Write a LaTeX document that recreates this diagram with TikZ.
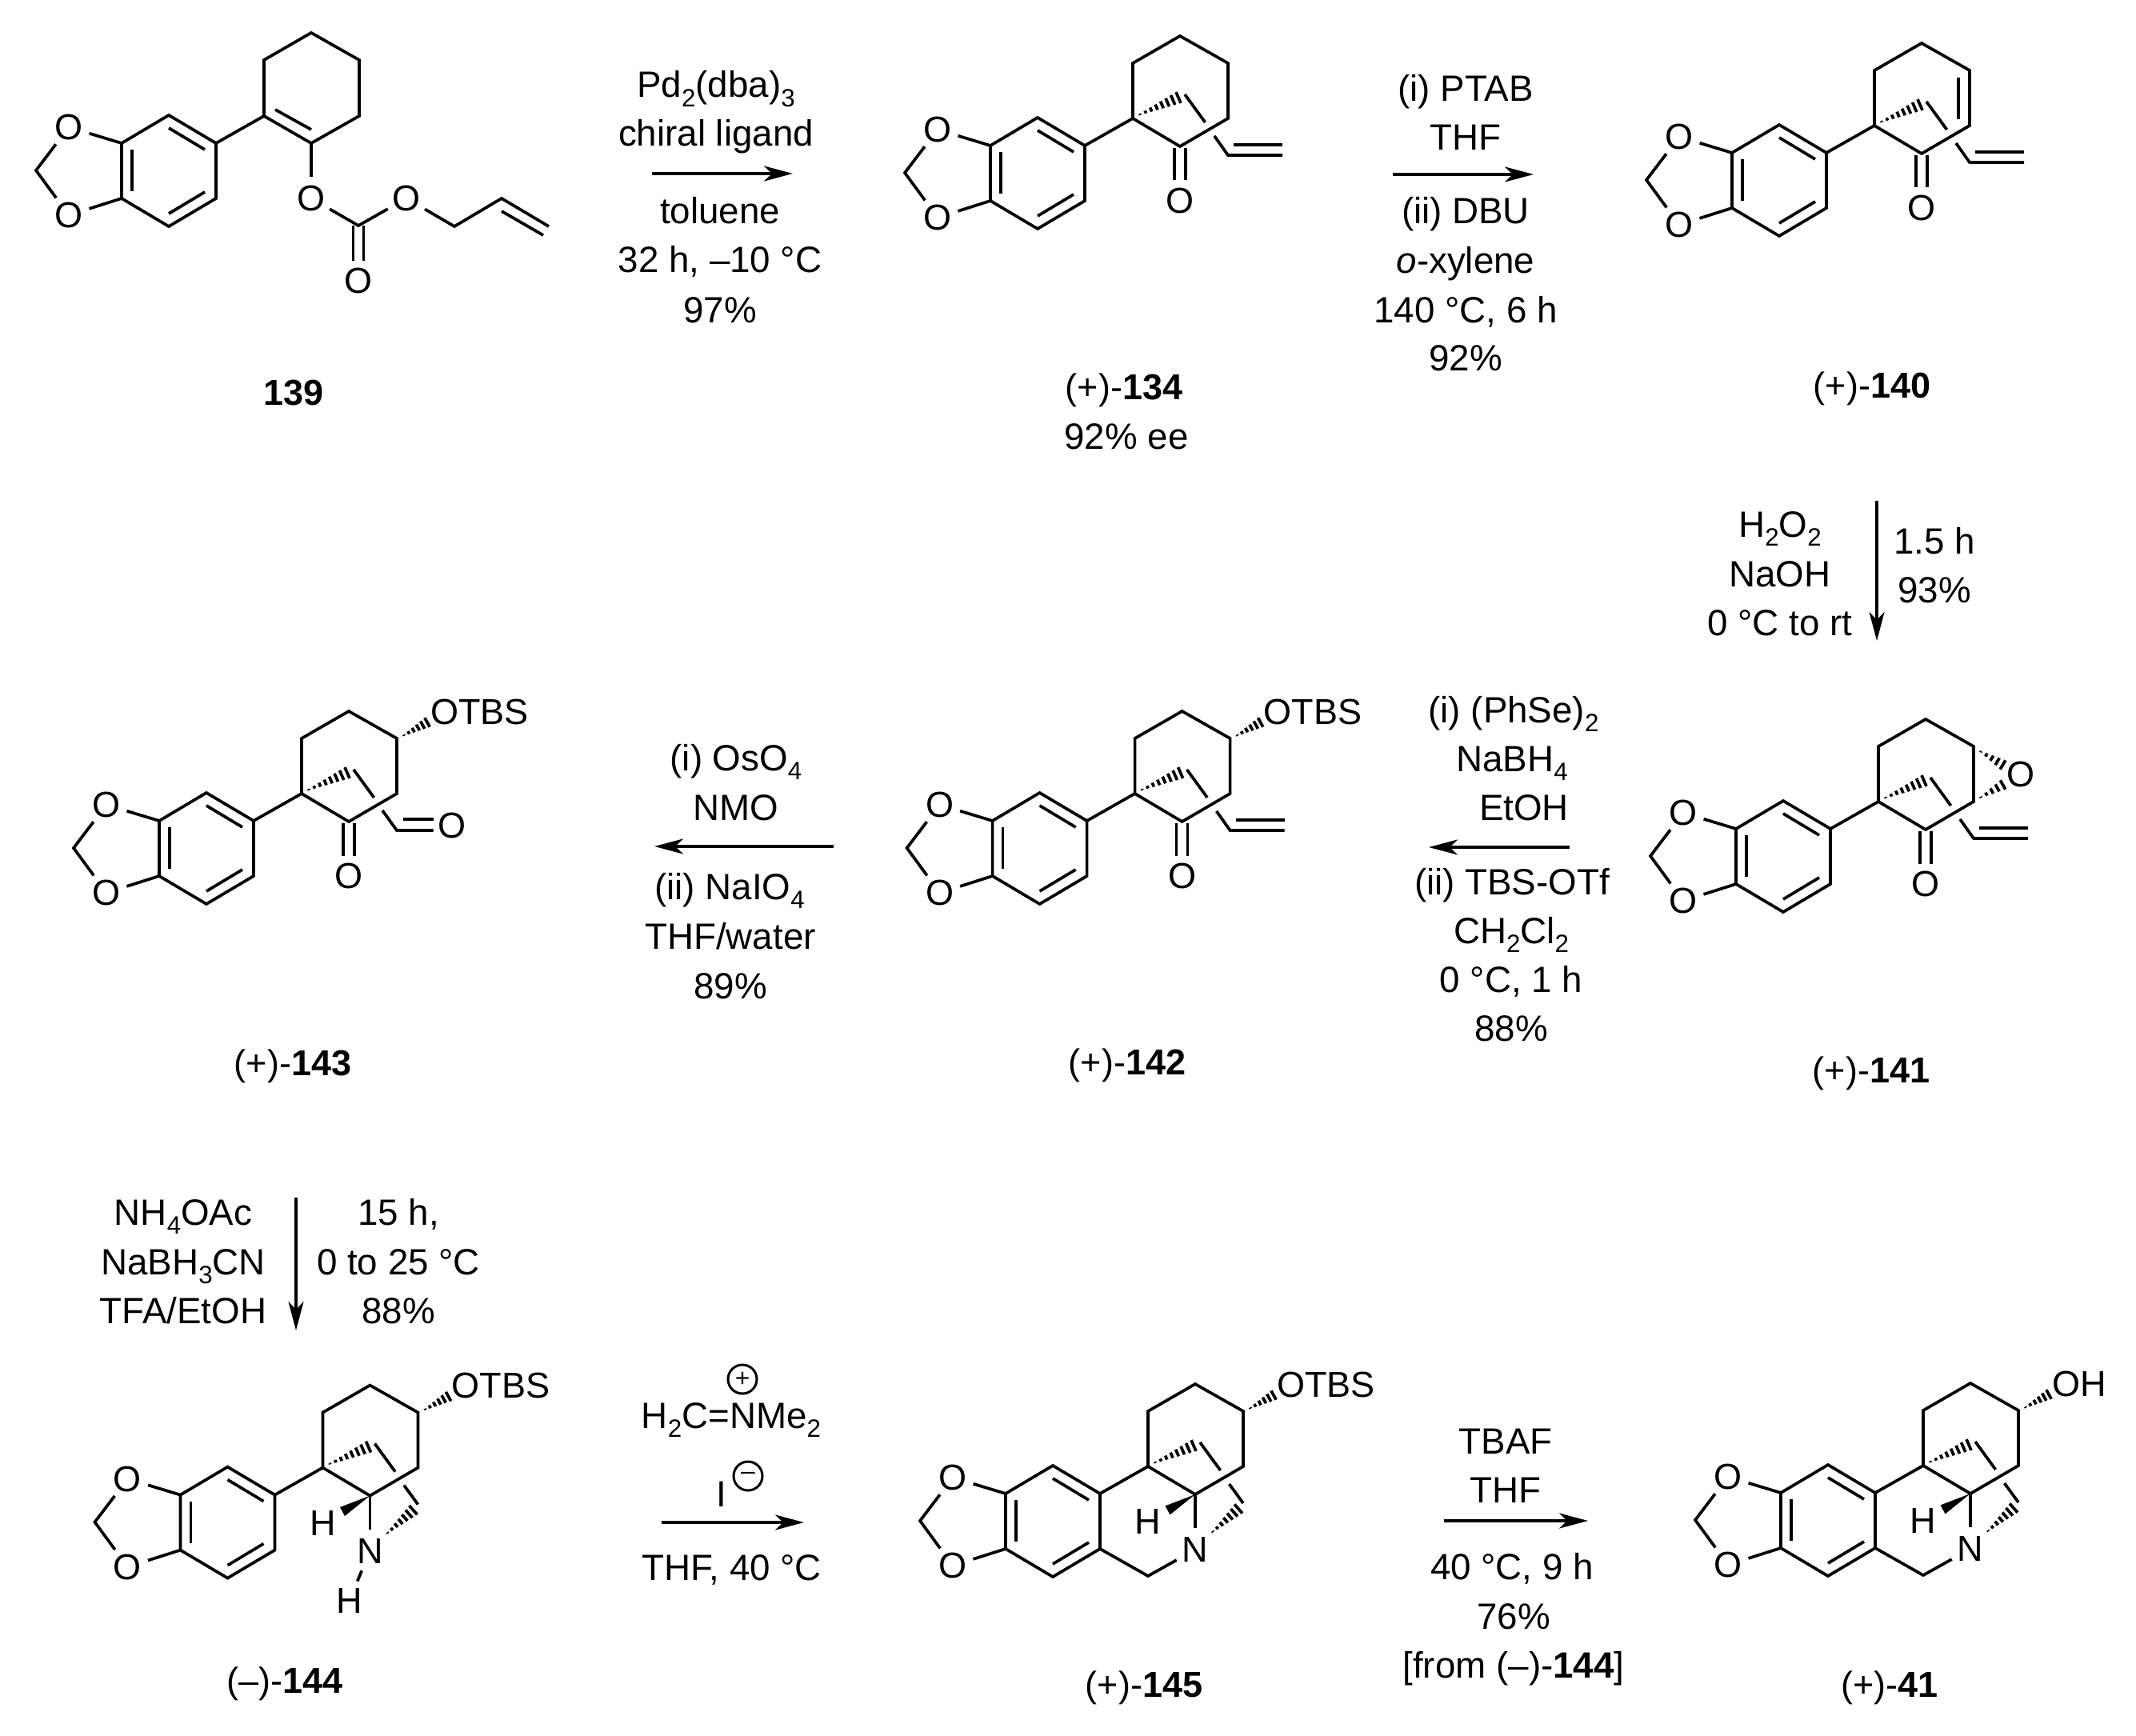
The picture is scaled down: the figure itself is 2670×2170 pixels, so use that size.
\documentclass[tikz,border=0pt]{standalone}
\usepackage{fontspec}
\setmainfont{Liberation Sans}
\usetikzlibrary{calc,arrows.meta}
\newcommand\subs[1]{\raisebox{-0.25em}{\fontsize{8.9}{9}\selectfont #1}}
\tikzset{
  bond/.style={line width=0.037cm,line join=miter,line cap=butt},
  hashline/.style={line width=0.037cm,line cap=butt},
  atom/.style={circle,inner sep=0pt,minimum size=0.52cm,font=\fontsize{12.8}{15}\selectfont},
  txt/.style={inner sep=0pt,anchor=base,font=\fontsize{13}{15}\selectfont},
  lab/.style={inner sep=0pt,anchor=base,font=\fontsize{12.8}{15}\selectfont},
  rxn/.style={line width=0.037cm,-{Stealth[length=0.36cm,width=0.19cm,inset=0.1cm]}},
  charge/.style={circle,draw,line width=0.03cm,inner sep=0pt,minimum size=0.36cm,font=\fontsize{9}{9}\selectfont}
}
% hashed wedge: narrow end #1, wide end #2, #3 stripes beyond the first, half width #4 (px)
\newcommand\hashw[4]{%
  \coordinate (hd) at ($(#1)!1.6!(#2)$);
  \foreach \k in {0,...,#3}{%
    \pgfmathsetmacro\tf{\k/#3}%
    \pgfmathsetmacro\hw{(0.8+(#4-0.8)*\tf)*0.2845}%
    \coordinate (hp) at ($(#1)!\tf!(#2)$);
    \draw[hashline] ($(hp)!\hw pt!90:(hd)$) -- ($(hp)!\hw pt!-90:(hd)$);
  }%
}
% aromatic ring with methylenedioxy, drawn relative to the quaternary carbon
\newcommand\arylring{%
  \coordinate (a1) at (-60,34);\coordinate (a2) at (-60,103);\coordinate (a3) at (-119,138);
  \coordinate (a4) at (-178,103);\coordinate (a5) at (-178,34);\coordinate (a6) at (-119,-1);
  \coordinate (ch2) at (-285,68);
  \node[atom] (o1) at (-244,14) {O};
  \node[atom] (o2) at (-244,124) {O};
  \draw[bond] (a6)--(a1)--(a2)--(a3)--(a4)--(a5)--cycle;
  \coordinate (i1) at (-119,15);\coordinate (i2) at (-74,42);
  \coordinate (i3) at (-119,122);\coordinate (i4) at (-74,95);
  \coordinate (i5) at (-165,42);\coordinate (i6) at (-165,94);
  \draw[bond] (i1)--(i2);
  \draw[bond] (i3)--(i4);
  \draw[bond] (i5)--(i6);
  \draw[bond] (a5)--(o1);
  \draw[bond] (a4)--(o2);
  \draw[bond] (o1)--(ch2)--(o2);
}
% saturated ring with bridge
\newcommand\satring{%
  \coordinate (q) at (0,0);\coordinate (r1) at (0,-69);\coordinate (r2) at (59,-103);
  \coordinate (r3) at (119,-69);\coordinate (r4) at (119,0);\coordinate (r5) at (59,35);
  \draw[bond] (q)--(r1)--(r2)--(r3)--(r4)--(r5)--cycle;
  \draw[bond] (a1)--(q);
  \coordinate (hqa) at (9,-5);\coordinate (hqb) at (57,-26);
  \hashw{hqa}{hqb}{7}{7.5}
  \coordinate (b1) at (65,-30);\coordinate (b2) at (90.5,5);
  \draw[bond] (b1)--(b2);
}
\newcommand\ketone{%
  \node[atom] (ok) at (59,103) {O};
  \draw[bond] ($(r5)+(-7,2)$)--($(ok)+(-7,-25.5)$);
  \draw[bond] ($(r5)+(7,2)$)--($(ok)+(7,-25.5)$);
}
\newcommand\vinylgrp{%
  \coordinate (v1) at (102,22);\coordinate (v2) at (119,46);\coordinate (v3) at (187,46);
  \coordinate (v4) at (126,33);\coordinate (v5) at (187,33);
  \draw[bond] (v1)--(v2)--(v3);
  \draw[bond] (v4)--(v5);
}
% OTBS or OH on r3
\newcommand\oxy[1]{%
  \node[lab,anchor=base west] (ox) at (160.5,-87) {#1};
  \coordinate (hoa) at (128,-73);\coordinate (hob) at (157,-89);
  \hashw{hoa}{hob}{5}{6.5}
}
% C-H / N bridge
\newcommand\amine{%
  \node[atom] (nn) at (59,104) {N};
  \node[atom] (hh) at (0,69) {H};
  \coordinate (wa) at (21.5,49.4);\coordinate (wb) at (27.5,60.4);
  \fill (r5)--(wa)--(wb)--cycle;
  \draw[bond] (r5)--(nn);
  \coordinate (l1) at (101.5,22);\coordinate (l2) at (119,46);
  \draw[bond] (l1)--(l2);
  \coordinate (hna) at (81,81.5);\coordinate (hnb) at (113,53);
  \hashw{hna}{hnb}{6}{7.5}
}
\newcommand\tricyclic{%
  \coordinate (c7) at (0,137);
  \coordinate (ar5) at (-60,103);
  \draw[bond] (ar5)--(c7)--(nn);
}
\begin{document}
\begin{tikzpicture}[x=0.01cm,y=-0.01cm]
\useasboundingbox (0,0) rectangle (2670,2170);
\fill[white] (0,0) rectangle (2670,2170);

% 139
\begin{scope}[shift={(330,145)},name prefix=m139-]
  \arylring
  \coordinate (q) at (0,0);\coordinate (r1) at (0,-70);\coordinate (r2) at (59,-104);
  \coordinate (r3) at (119,-70);\coordinate (r4) at (119,0);\coordinate (r5) at (59,34);
  \draw[bond] (q)--(r1)--(r2)--(r3)--(r4)--(r5)--cycle;
  \draw[bond] (a1)--(q);
  \coordinate (d1) at (14,-8);\coordinate (d2) at (59,17);
  \draw[bond] (d1)--(d2);
  \node[atom] (oe) at (59,103) {O};
  \coordinate (cc) at (118,137);
  \node[atom] (oa) at (178,103) {O};
  \node[atom] (oc) at (118,206) {O};
  \coordinate (c1) at (238,138);\coordinate (c2) at (297,103);\coordinate (c3) at (356,138);
  \coordinate (d3) at (297,119);\coordinate (d4) at (349,149);
  \draw[bond] (r5)--(oe);
  \draw[bond] (oe)--(cc)--(oa);
  \draw[bond] (oa)--(c1)--(c2)--(c3);
  \draw[bond] (d3)--(d4);
  \draw[bond] ($(cc)+(-6.5,0)$)--($(oc)+(-6.5,-25)$);
  \draw[bond] ($(cc)+(6.5,0)$)--($(oc)+(6.5,-25)$);
\end{scope}
\node[lab] (l139) at (367,506) {\textbf{139}};

% 134
\begin{scope}[shift={(1416,148)},name prefix=m134-]
  \arylring\satring\ketone\vinylgrp
\end{scope}
\node[lab] (l134) at (1405,499) {(+)-\textbf{134}};
\node[txt] (l134b) at (1408,561) {92\% ee};

% 140
\begin{scope}[shift={(2343,157)},name prefix=m140-]
  \arylring\satring\ketone\vinylgrp
  \coordinate (d1) at (105,-60);\coordinate (d2) at (105,-8);
  \draw[bond] (d1)--(d2);
\end{scope}
\node[lab] (l140) at (2340,498) {(+)-\textbf{140}};

% 141
\begin{scope}[shift={(2348,1002)},name prefix=m141-]
  \arylring\satring\ketone\vinylgrp
  \node[atom] (oep) at (178,-34) {O};
  \coordinate (e1) at (128,-62.4);\coordinate (e2) at (155.5,-46);
  \coordinate (e3) at (128,-5.5);\coordinate (e4) at (155.5,-21);
  \hashw{e1}{e2}{4}{6.5}
  \hashw{e3}{e4}{4}{6.5}
\end{scope}
\node[lab] (l141) at (2339,1353) {(+)-\textbf{141}};

% 142
\begin{scope}[shift={(1418.6,992)},name prefix=m142-]
  \arylring\satring\ketone\vinylgrp\oxy{OTBS}
\end{scope}
\node[lab] (l142) at (1409,1343) {(+)-\textbf{142}};

% 143
\begin{scope}[shift={(377,992)},name prefix=m143-]
  \arylring\satring\ketone\oxy{OTBS}
  \coordinate (v1) at (101,21);\coordinate (v2) at (119,46);\coordinate (v3) at (164.5,46);
  \coordinate (v4) at (127,32);\coordinate (v5) at (164.5,32);
  \node[atom] (oal) at (187.6,40) {O};
  \draw[bond] (v1)--(v2)--(v3);
  \draw[bond] (v4)--(v5);
\end{scope}
\node[lab] (l143) at (366,1344) {(+)-\textbf{143}};

% 144
\begin{scope}[shift={(403.5,1834.6)},name prefix=m144-]
  \arylring\satring\amine\oxy{OTBS}
  \node[atom] (hn) at (33,166.5) {H};
  \draw[bond] (nn)--(hn);
\end{scope}
\node[lab] (l144) at (356,2116) {(--)-\textbf{144}};

% 145
\begin{scope}[shift={(1435,1833)},name prefix=m145-]
  \arylring\satring\amine\tricyclic\oxy{OTBS}
\end{scope}
\node[lab] (l145) at (1430,2121) {(+)-\textbf{145}};

% 41
\begin{scope}[shift={(2404,1832)},name prefix=m41-]
  \arylring\satring\amine\tricyclic\oxy{OH}
\end{scope}
\node[lab] (l41) at (2362,2121) {(+)-\textbf{41}};

% reaction 1
\coordinate (s1) at (815,217);\coordinate (e1) at (991,217);
\draw[rxn] (s1)--(e1);
\node[txt] (t1a) at (895,122) {Pd\subs{2}(dba)\subs{3}};
\node[txt] (t1b) at (895,183) {chiral ligand};
\node[txt] (t1c) at (900,280) {toluene};
\node[txt] (t1d) at (900,341) {32 h, --10 °C};
\node[txt] (t1e) at (900,403) {97\%};

% reaction 2
\coordinate (s2) at (1741,218);\coordinate (e2) at (1917,218);
\draw[rxn] (s2)--(e2);
\node[txt] (t2a) at (1832,127) {(i) PTAB};
\node[txt] (t2b) at (1832,188) {THF};
\node[txt] (t2c) at (1832,280) {(ii) DBU};
\node[txt] (t2d) at (1832,342) {\textit{o}-xylene};
\node[txt] (t2e) at (1832,403) {140 °C, 6 h};
\node[txt] (t2f) at (1832,464) {92\%};

% reaction 3
\coordinate (s3) at (2346,626);\coordinate (e3) at (2346,801);
\draw[rxn] (s3)--(e3);
\node[txt] (t3a) at (2225,671) {H\subs{2}O\subs{2}};
\node[txt] (t3b) at (2225,733) {NaOH};
\node[txt] (t3c) at (2225,794) {0 °C to rt};
\node[txt] (t3d) at (2418,692) {1.5 h};
\node[txt] (t3e) at (2418,753) {93\%};

% reaction 4
\coordinate (s4) at (1962,1059);\coordinate (e4) at (1786,1059);
\draw[rxn] (s4)--(e4);
\node[txt] (t4a) at (1892,903) {(i) (PhSe)\subs{2}};
\node[txt] (t4b) at (1890,964) {NaBH\subs{4}};
\node[txt] (t4c) at (1905,1025) {EtOH};
\node[txt] (t4d) at (1890,1118) {(ii) TBS-OTf};
\node[txt] (t4e) at (1889,1179) {CH\subs{2}Cl\subs{2}};
\node[txt] (t4f) at (1889,1240) {0 °C, 1 h};
\node[txt] (t4g) at (1889,1301) {88\%};

% reaction 5
\coordinate (s5) at (1042,1058);\coordinate (e5) at (818,1058);
\draw[rxn] (s5)--(e5);
\node[txt] (t5a) at (920,963) {(i) OsO\subs{4}};
\node[txt] (t5b) at (920,1025) {NMO};
\node[txt] (t5c) at (912,1124) {(ii) NaIO\subs{4}};
\node[txt] (t5d) at (913,1186) {THF/water};
\node[txt] (t5e) at (913,1248) {89\%};

% reaction 6
\coordinate (s6) at (370,1497);\coordinate (e6) at (370,1663);
\draw[rxn] (s6)--(e6);
\node[txt] (t6a) at (229,1531) {NH\subs{4}OAc};
\node[txt] (t6b) at (229,1593) {NaBH\subs{3}CN};
\node[txt] (t6c) at (229,1654) {TFA/EtOH};
\node[txt] (t6d) at (498,1531) {15 h,};
\node[txt] (t6e) at (498,1593) {0 to 25 °C};
\node[txt] (t6f) at (498,1654) {88\%};

% reaction 7
\coordinate (s7) at (827,1903);\coordinate (e7) at (1005,1903);
\draw[rxn] (s7)--(e7);
\node[txt] (t7a) at (914,1785) {H\subs{2}C=NMe\subs{2}};
\node[charge] (t7b) at (928,1724) {+};
\node[txt] (t7c) at (902,1883) {I};
\node[charge] (t7d) at (935,1845) {--};
\node[txt] (t7e) at (915,1975) {THF, 40 °C};

% reaction 8
\coordinate (s8) at (1805,1901);\coordinate (e8) at (1985,1901);
\draw[rxn] (s8)--(e8);
\node[txt] (t8a) at (1882,1817) {TBAF};
\node[txt] (t8b) at (1882,1878) {THF};
\node[txt] (t8c) at (1890,1974) {40 °C, 9 h};
\node[txt] (t8d) at (1892,2036) {76\%};
\node[txt] (t8e) at (1892,2097) {[from (--)-\textbf{144}]};
\end{tikzpicture}
\end{document}
